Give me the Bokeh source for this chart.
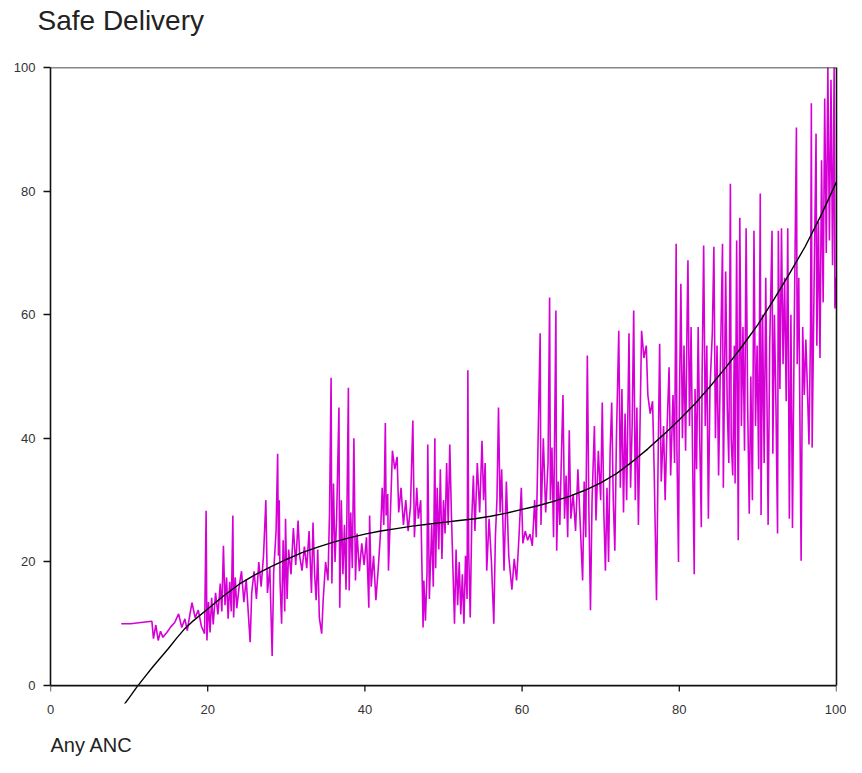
from bokeh.plotting import figure
from bokeh.models import Range1d, FixedTicker, LinearAxis, Title, Span
from bokeh.embed import file_html
from bokeh.resources import INLINE

# ---- data ----
anc = [9.0, 10.2, 11.5, 12.9, 13.1, 13.4, 13.7, 14.0, 14.3, 14.8, 15.3, 15.8, 16.3, 16.7, 17.1, 17.4,
       17.8, 18.0, 18.4, 18.8, 19.2, 19.6, 19.8, 19.9, 20.1, 20.3, 20.5, 20.7, 21.0, 21.3, 21.6, 21.8,
       22.0, 22.2, 22.4, 22.6, 22.8, 23.0, 23.2, 23.3, 23.5, 23.7, 24.0, 24.3, 24.6, 24.9, 25.2, 25.4,
       25.6, 25.9, 26.2, 26.5, 26.8, 27.1, 27.4, 27.6, 27.9, 28.2, 28.4, 28.7, 28.9, 29.0, 29.1, 29.2,
       29.4, 29.6, 29.8, 29.9, 30.1, 30.3, 30.6, 30.9, 31.2, 31.5, 31.7, 32.0, 32.3, 32.6, 32.9, 33.2,
       33.4, 33.6, 33.8, 34.0, 34.2, 34.5, 34.7, 35.0, 35.3, 35.5, 35.7, 35.8, 36.0, 36.2, 36.4, 36.7,
       36.8, 37.0, 37.2, 37.4, 37.6, 37.9, 38.0, 38.2, 38.4, 38.6, 38.8, 39.0, 39.3, 39.6, 39.9, 40.2,
       40.5, 40.6, 40.8, 41.1, 41.4, 41.7, 42.0, 42.2, 42.4, 42.6, 42.7, 42.9, 43.0, 43.3, 43.5, 43.8,
       44.1, 44.3, 44.6, 44.9, 45.2, 45.5, 45.8, 46.1, 46.3, 46.6, 46.8, 47.1, 47.4, 47.5, 47.7, 47.9,
       48.0, 48.2, 48.5, 48.7, 48.9, 49.0, 49.2, 49.4, 49.6, 49.8, 50.0, 50.2, 50.4, 50.6, 50.8, 51.0,
       51.2, 51.4, 51.6, 51.8, 52.0, 52.2, 52.4, 52.6, 52.8, 53.0, 53.1, 53.2, 53.4, 53.6, 53.8, 54.0,
       54.3, 54.6, 54.9, 55.1, 55.3, 55.5, 55.8, 56.1, 56.4, 56.6, 56.8, 57.0, 57.2, 57.4, 57.7, 58.0,
       58.3, 58.7, 59.0, 59.3, 59.6, 59.9, 60.1, 60.4, 60.7, 61.0, 61.3, 61.6, 61.8, 62.1, 62.3, 62.4,
       62.7, 63.0, 63.3, 63.5, 63.6, 63.8, 64.0, 64.3, 64.4, 64.6, 64.8, 65.0, 65.2, 65.4, 65.6, 65.8,
       66.0, 66.2, 66.5, 66.8, 67.1, 67.4, 67.7, 67.9, 68.1, 68.3, 68.5, 68.7, 68.9, 69.2, 69.4, 69.7,
       70.0, 70.2, 70.4, 70.6, 70.8, 71.0, 71.2, 71.4, 71.6, 71.8, 72.0, 72.3, 72.5, 72.7, 72.9, 73.1,
       73.3, 73.6, 73.8, 74.0, 74.2, 74.4, 74.6, 74.8, 75.0, 75.2, 75.5, 75.8, 76.0, 76.3, 76.6, 76.8,
       77.1, 77.3, 77.5, 77.7, 78.0, 78.2, 78.4, 78.7, 78.9, 79.2, 79.4, 79.6, 79.7, 79.9, 80.0, 80.2,
       80.4, 80.6, 80.8, 81.0, 81.1, 81.3, 81.5, 81.7, 81.9, 82.0, 82.2, 82.4, 82.6, 82.8, 82.9, 83.1,
       83.3, 83.5, 83.7, 83.9, 84.2, 84.4, 84.6, 84.8, 85.0, 85.2, 85.5, 85.6, 85.9, 86.1, 86.3, 86.5,
       86.6, 86.8, 87.0, 87.1, 87.3, 87.5, 87.7, 87.9, 88.1, 88.3, 88.5, 88.7, 88.9, 89.1, 89.3, 89.5,
       89.7, 89.9, 90.1, 90.3, 90.4, 90.6, 90.8, 91.0, 91.2, 91.3, 91.5, 91.8, 91.9, 92.1, 92.3, 92.5,
       92.6, 92.8, 93.0, 93.2, 93.4, 93.6, 93.8, 94.0, 94.2, 94.4, 94.6, 94.9, 95.0, 95.2, 95.3, 95.5,
       95.7, 95.9, 96.1, 96.3, 96.5, 96.7, 96.8, 96.9, 97.1, 97.4, 97.5, 97.7, 97.9, 98.1, 98.3, 98.5,
       98.7, 98.9, 99.1, 99.3, 99.5, 99.7, 99.8, 100.0]

safe = [10.0, 10.0, 10.2, 10.4, 7.6, 9.8, 7.3, 8.8, 7.8, 8.6, 9.5, 10.2, 11.6, 9.4, 10.8, 8.9,
        12.0, 13.4, 11.0, 12.2, 9.6, 8.4, 28.3, 7.3, 13.5, 8.6, 14.2, 9.9, 15.0, 11.5, 16.5, 12.0,
        22.6, 13.0, 17.5, 10.8, 16.8, 12.0, 27.5, 11.0, 17.5, 12.5, 16.0, 18.5, 13.5, 17.2, 11.0, 7.0,
        15.0, 18.5, 14.0, 20.0, 16.0, 21.0, 30.0, 15.0, 19.0, 4.8, 18.5, 25.0, 37.5, 21.0, 30.0, 17.0,
        10.0, 23.5, 12.0, 27.0, 14.0, 22.0, 18.0, 25.5, 19.5, 26.7, 21.0, 18.6, 22.5, 19.0, 25.0, 15.0,
        26.4, 18.0, 13.8, 22.0, 11.0, 8.4, 14.0, 20.0, 17.0, 28.0, 49.8, 16.5, 32.7, 20.0, 27.0, 45.0,
        12.6, 30.0, 18.0, 26.0, 15.5, 48.2, 15.4, 28.0, 19.0, 40.0, 17.0, 24.6, 18.5, 23.0, 19.5, 24.0,
        12.6, 27.5, 16.0, 21.0, 13.8, 19.0, 25.0, 32.0, 26.0, 42.5, 27.5, 31.0, 18.6, 30.0, 38.0, 35.0,
        37.0, 28.0, 32.0, 26.0, 30.0, 25.0, 29.0, 42.9, 24.0, 32.0, 27.0, 30.0, 9.4, 17.0, 10.5, 18.0,
        39.0, 14.0, 26.0, 16.0, 40.0, 19.0, 32.0, 22.0, 35.0, 20.5, 30.0, 24.6, 36.0, 26.0, 39.0, 28.0,
        19.0, 10.0, 22.0, 13.0, 20.0, 11.5, 18.0, 10.0, 21.0, 14.0, 51.0, 22.0, 11.0, 27.0, 34.0, 25.0,
        36.0, 28.0, 39.6, 30.0, 36.0, 18.6, 27.0, 20.0, 10.0, 24.0, 30.0, 45.0, 28.0, 35.0, 18.6, 33.0,
        21.0, 15.5, 20.5, 17.0, 24.0, 32.0, 23.0, 25.0, 23.5, 24.5, 22.6, 30.0, 24.0, 44.0, 57.0, 26.0,
        40.0, 28.0, 36.0, 62.8, 30.0, 38.5, 24.0, 60.7, 21.8, 33.0, 26.0, 37.0, 47.0, 27.0, 34.0, 24.0,
        41.3, 27.0, 31.0, 25.0, 35.0, 26.0, 17.0, 33.0, 24.0, 53.4, 28.0, 12.2, 30.0, 42.0, 26.7, 38.0,
        30.0, 45.8, 28.0, 18.6, 32.0, 20.0, 38.0, 45.8, 30.0, 21.8, 40.0, 57.4, 32.0, 48.0, 28.0, 44.0,
        30.0, 57.0, 32.0, 42.0, 60.7, 30.0, 45.0, 26.0, 42.0, 57.4, 53.0, 55.0, 47.0, 44.0, 46.0, 35.0,
        13.8, 36.0, 55.3, 33.0, 42.0, 30.0, 40.0, 51.5, 34.0, 47.0, 36.0, 71.5, 38.0, 20.0, 44.0, 65.0,
        40.0, 55.0, 38.0, 60.0, 68.8, 42.0, 58.0, 36.0, 18.0, 48.0, 35.0, 58.0, 40.0, 25.6, 50.0, 71.2,
        42.0, 55.0, 27.0, 48.0, 57.0, 71.0, 40.0, 55.0, 34.0, 50.0, 71.5, 32.0, 67.0, 45.0, 36.0, 81.2,
        40.0, 34.0, 55.0, 32.7, 72.0, 23.5, 75.7, 42.0, 58.0, 38.0, 74.0, 45.0, 27.8, 50.0, 30.0, 73.6,
        42.0, 55.0, 35.0, 79.6, 27.6, 60.0, 36.0, 66.0, 40.0, 26.0, 55.0, 73.6, 37.5, 60.0, 45.0, 24.6,
        73.6, 48.0, 74.0, 52.0, 66.0, 46.0, 74.0, 27.0, 60.0, 25.5, 55.0, 90.3, 52.0, 66.0, 50.0, 20.2,
        58.0, 47.0, 56.0, 48.0, 39.0, 58.0, 94.2, 38.5, 60.0, 89.3, 55.0, 75.0, 53.0, 85.0, 62.0, 95.0,
        70.0, 100.0, 72.0, 98.0, 68.0, 100.0, 61.0, 66.0]

trend_x = [9, 10, 11, 12, 13, 14, 15, 16, 17, 18, 20, 22, 24, 26, 28, 30, 32, 34, 36, 38, 40, 42,
           44, 46, 48, 50, 52, 54, 56, 58, 60, 62, 64, 66, 68, 70, 72, 74, 76, 78, 80, 82, 84, 86,
           88, 90, 92, 94, 96, 98, 100]
trend_y = [-3.7, -2.0, -0.2, 1.4, 3.0, 4.5, 6.0, 7.6, 9.1, 10.3, 12.4, 14.5, 16.4, 17.9, 19.2,
           20.4, 21.5, 22.4, 23.2, 23.9, 24.5, 25.0, 25.4, 25.8, 26.1, 26.4, 26.7, 27.0, 27.4, 27.9,
           28.5, 29.1, 29.8, 30.6, 31.6, 32.8, 34.3, 36.2, 38.3, 40.6, 43.0, 45.6, 48.5, 51.6, 54.9,
           58.4, 62.4, 66.6, 71.0, 76.0, 81.5]

x_ticks = [0, 20, 40, 60, 80, 100]
y_ticks = [0, 20, 40, 60, 80, 100]

title_text = "Safe Delivery"
xlabel_text = "Any ANC"

FONT = "Liberation Sans"
AX = "#111111"

W, H = 846, 757
LEFT, TOP, RIGHT_B = 50, 67, 10
Y0 = -2.9                      # room below the x axis for the trend line
FRAME_H = 636                  # frame: y = 100 at px 67, y = 0 at px 685
BOTTOM_B = H - TOP - FRAME_H
TICK_PX = 6

p = figure(width=W, height=H, output_backend="svg", toolbar_location=None,
           x_range=Range1d(0, 100), y_range=Range1d(Y0, 100),
           x_axis_location=None, y_axis_location=None, title=None,
           min_border_left=LEFT, min_border_right=RIGHT_B, min_border_top=TOP,
           min_border_bottom=BOTTOM_B)
p.outline_line_color = None
p.background_fill_color = "white"
p.border_fill_color = "white"
p.xgrid.visible = False
p.ygrid.visible = False

# ---- title (above); a blank second line lifts it away from the frame ----
p.add_layout(Title(text=title_text + "\n ", align="left", offset=-13, standoff=2,
                   text_font=FONT, text_font_size="28px", text_line_height=1.0,
                   text_font_style="normal", text_color="#222222"), "above")

# ---- left axis ----
yaxis = LinearAxis(ticker=FixedTicker(ticks=y_ticks), bounds=(0, 100))
yaxis.axis_line_color = AX
yaxis.axis_line_width = 1.6
yaxis.major_tick_line_color = AX
yaxis.major_tick_line_width = 1.3
yaxis.major_tick_out = 7
yaxis.major_tick_in = 0
yaxis.minor_tick_line_color = None
yaxis.major_label_text_font = FONT
yaxis.major_label_text_font_size = "13px"
yaxis.major_label_text_color = "#333333"
yaxis.major_label_standoff = 8
p.add_layout(yaxis, "left")

# ---- x axis: line + ticks at y = 0, labels in the panel just below ----
p.add_layout(Span(location=0, dimension="width", line_color=AX, line_width=1.6))
tick_len = TICK_PX * (100 - Y0) / FRAME_H
p.segment(x0=x_ticks, y0=[0] * len(x_ticks), x1=x_ticks, y1=[-tick_len] * len(x_ticks),
          line_color=AX, line_width=1.3)

xaxis = LinearAxis(ticker=FixedTicker(ticks=x_ticks))
xaxis.axis_line_color = None
xaxis.major_tick_line_color = None
xaxis.minor_tick_line_color = None
xaxis.major_tick_out = 0
xaxis.major_tick_in = 0
xaxis.major_label_standoff = 1
xaxis.major_label_text_font = FONT
xaxis.major_label_text_font_size = "13px"
xaxis.major_label_text_color = "#333333"
p.add_layout(xaxis, "below")
p.add_layout(Title(text=" \n" + xlabel_text, align="left", standoff=2, text_font=FONT,
                   text_font_size="20px", text_line_height=0.7,
                   text_font_style="normal", text_color="#222222"), "below")

# ---- box: top and right lines ----
p.add_layout(Span(location=100, dimension="width", line_color=AX, line_width=1.6))
right_axis = LinearAxis(ticker=FixedTicker(ticks=[]), major_tick_line_color=None,
                        minor_tick_line_color=None, axis_line_color=AX, axis_line_width=1.6,
                        major_tick_out=0, major_label_standoff=0, bounds=(0, 100))
p.add_layout(right_axis, "right")

# ---- data ----
p.line(anc, safe, line_color="#d600d6", line_width=1.6)
p.line(trend_x, trend_y, line_color="#000000", line_width=1.4)

open("out.html", "w").write(file_html(p, INLINE))
